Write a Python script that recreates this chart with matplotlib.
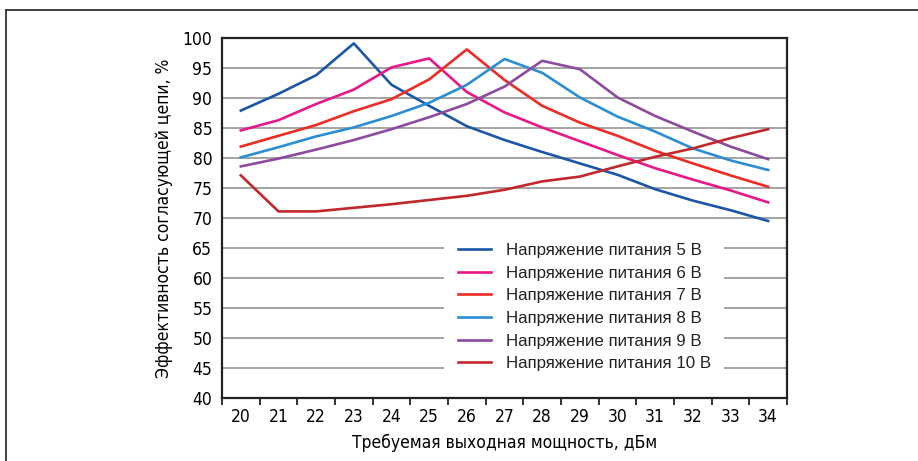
import matplotlib
matplotlib.use('Agg')
import matplotlib.pyplot as plt
from matplotlib.lines import Line2D
from matplotlib import font_manager
import numpy as np

# Output power, dBm
power = [20, 21, 22, 23, 24, 25, 26, 27, 28, 29, 30, 31, 32, 33, 34]

# Matching circuit efficiency, % for each supply voltage
eff_5v = [87.9, 90.7, 93.8, 99.1, 92.2, 88.7, 85.3, 83.0, 81.0, 79.1, 77.2, 74.8, 72.9, 71.3, 69.5]
eff_6v = [84.6, 86.3, 89.0, 91.4, 95.1, 96.6, 91.0, 87.6, 85.1, 82.8, 80.5, 78.3, 76.4, 74.6, 72.6]
eff_7v = [81.9, 83.7, 85.5, 87.8, 89.8, 93.1, 98.1, 93.0, 88.7, 85.9, 83.7, 81.2, 79.1, 77.1, 75.2]
eff_8v = [80.1, 81.8, 83.6, 85.1, 87.0, 89.2, 92.2, 96.5, 94.2, 90.1, 86.9, 84.4, 81.6, 79.6, 78.0]
eff_9v = [78.6, 79.9, 81.4, 83.0, 84.8, 86.8, 89.0, 91.9, 96.2, 94.8, 90.1, 87.0, 84.4, 81.9, 79.8]
eff_10v = [77.1, 71.1, 71.1, 71.7, 72.3, 73.0, 73.7, 74.7, 76.1, 76.9, 78.6, 80.2, 81.6, 83.3, 84.8]

series = [eff_5v, eff_6v, eff_7v, eff_8v, eff_9v, eff_10v]
labels = ['Напряжение питания 5 В', 'Напряжение питания 6 В', 'Напряжение питания 7 В',
          'Напряжение питания 8 В', 'Напряжение питания 9 В', 'Напряжение питания 10 В']
colors = ['#1b57a6', '#e8178a', '#ee2b25', '#2b8ed3', '#8d4a9f', '#c1282e']

# condensed face for ticks and axis titles
cond = font_manager.FontProperties(family='DejaVu Sans', stretch='condensed', size=12.5)

fig = plt.figure(figsize=(9.18, 4.61), dpi=100)
ax = fig.add_axes([222 / 918, 1 - 398 / 461, 565 / 918, 360 / 461])

x = np.arange(len(power))
for vals, lab, c in zip(series, labels, colors):
    ax.plot(x, vals, color=c, lw=1.9, label=lab, zorder=3)

ax.set_xlim(-0.5, len(power) - 0.5)
ax.set_ylim(40, 100)
ax.set_yticks(range(40, 101, 5))
ax.grid(axis='y', color='#8c8c8c', lw=1.1, zorder=1)

# ticks on category boundaries, labels in the middle
ax.set_xticks(np.arange(-0.5, len(power), 1))
ax.set_xticklabels([])
ax.set_xticks(x, minor=True)
ax.set_xticklabels([str(p) for p in power], minor=True, fontproperties=cond)
ax.tick_params(axis='x', which='major', length=5, width=1.3, color='#222222', direction='out')
ax.tick_params(axis='x', which='minor', length=0, pad=7)
ax.tick_params(axis='y', length=0, pad=7)
ax.set_yticklabels([str(v) for v in range(40, 101, 5)], fontproperties=cond)

for s in ax.spines.values():
    s.set_color('#222222')
    s.set_linewidth(1.6)

ax.set_xlabel('Требуемая выходная мощность, дБм', fontproperties=cond, labelpad=6)
ax.set_ylabel('Эффективность согласующей цепи, %', fontproperties=cond, labelpad=7)

leg = ax.legend(loc='upper left', bbox_to_anchor=(436 / 918, 1 - 221 / 461),
                bbox_transform=fig.transFigure, frameon=True,
                prop=font_manager.FontProperties(family='Liberation Sans', size=12.2),
                facecolor='white', edgecolor='none', framealpha=1, fancybox=False,
                handlelength=1.92, handletextpad=0.9, labelspacing=0.45, borderpad=0.8)
for t in leg.get_texts():
    t.set_color('#222222')

# outer frame of the figure panel
fig.add_artist(Line2D([6 / 918, 1], [1 - 10 / 461, 1 - 10 / 461], color='#333333', lw=1.3))
fig.add_artist(Line2D([6 / 918, 6 / 918], [0, 1 - 10 / 461], color='#333333', lw=1.3))

fig.savefig('out.png', dpi=100)
